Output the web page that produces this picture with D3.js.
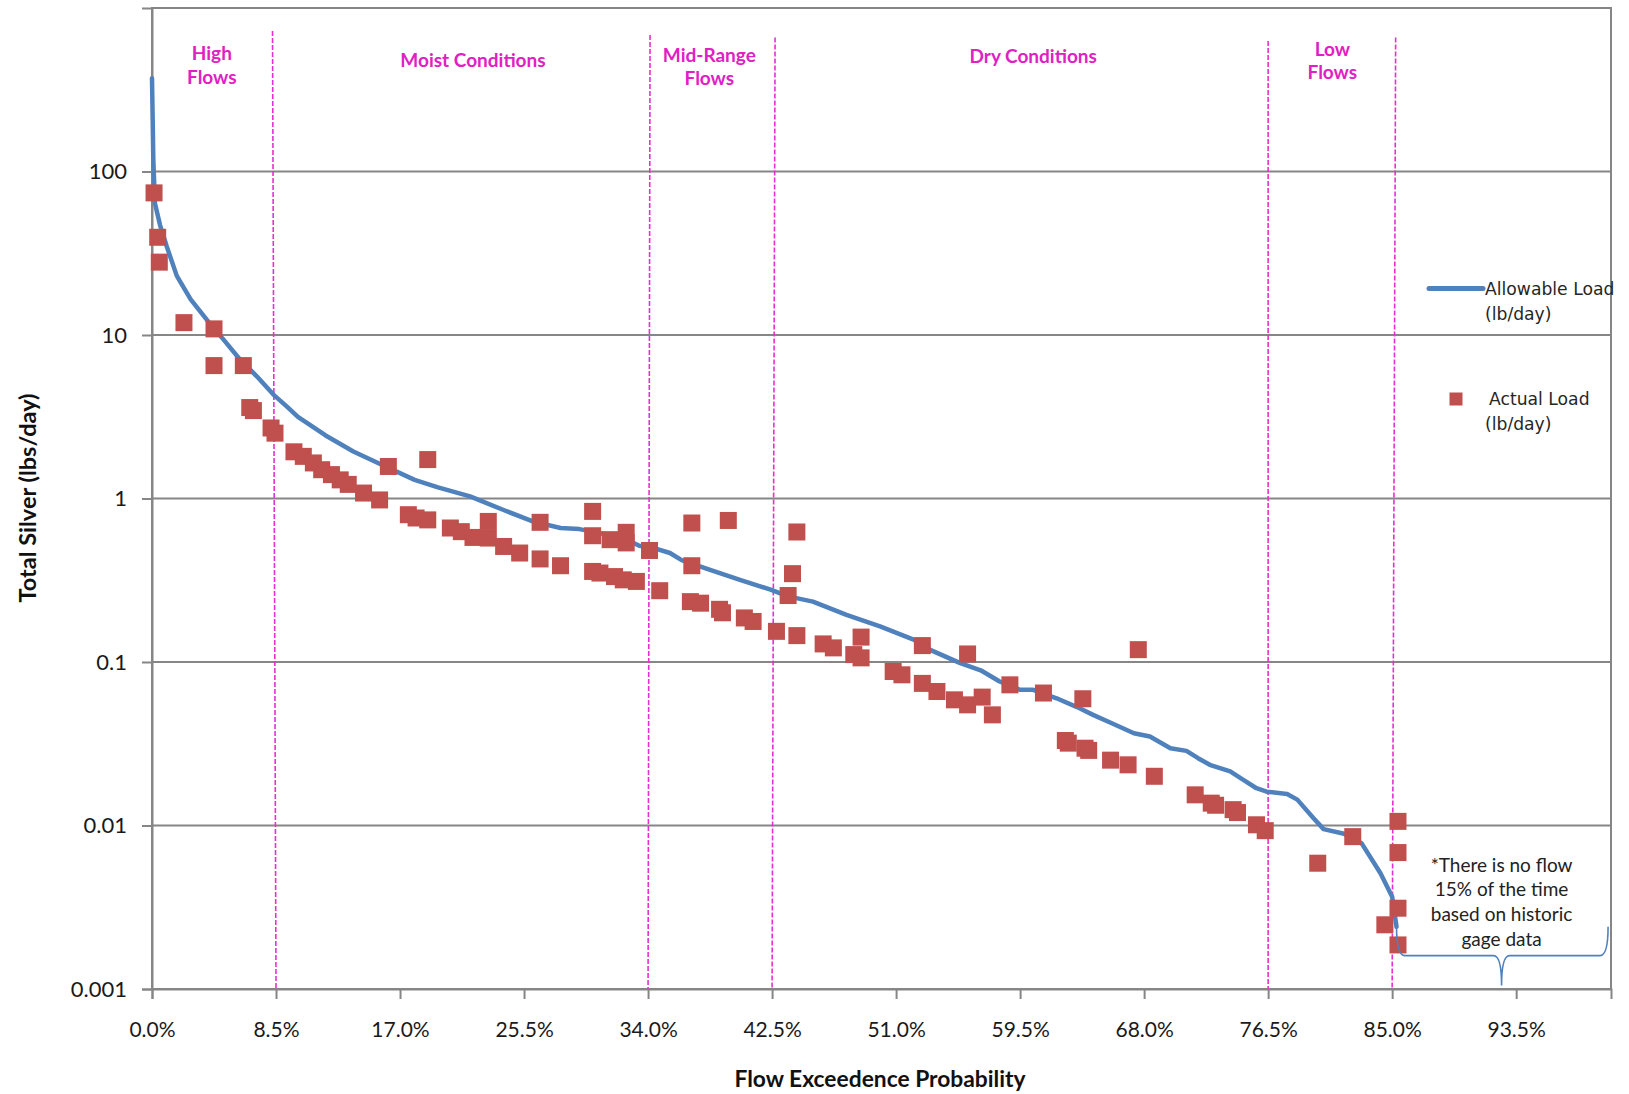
<!DOCTYPE html>
<html><head><meta charset="utf-8">
<script src="https://cdn.jsdelivr.net/npm/d3@7"></script>
<style>body{margin:0;background:#fff} svg{display:block}</style>
</head><body><svg id="c" width="1629" height="1094"></svg>
<script>
// ---------------- data ----------------
const xTicks = [0, 8.5, 17, 25.5, 34, 42.5, 51, 59.5, 68, 76.5, 85, 93.5];
const xTickLabels = ["0.0%","8.5%","17.0%","25.5%","34.0%","42.5%","51.0%","59.5%","68.0%","76.5%","85.0%","93.5%"];
const yTicks = [0.001, 0.01, 0.1, 1, 10, 100];
const yTickLabels = ["0.001","0.01","0.1","1","10","100"];

const allowPct = [0,0.05,0.09,0.2,0.55,1.0,1.7,2.65,3.75,4.89,6.03,7.18,8.32,9.23,10.0,11.9,13.8,15.6,18.0,19.6,21.8,24.1,26.1,28.0,29.3,30.5,32.4,33.4,34.3,35.5,36.3,38.2,40.3,42.4,43.6,45.3,47.6,49.9,52.2,53.3,55.4,56.8,58.1,59.5,60.4,62.0,63.4,64.5,65.9,67.3,68.4,69.8,70.9,71.7,72.5,73.9,74.8,75.7,76.4,77.8,78.5,79.6,80.3,81.7,82.9,84.2,85.0,85.3];
const allowVal = [372,200,118,64,47,35,23,16.5,12.4,9.4,7.08,5.59,4.32,3.66,3.16,2.43,1.94,1.63,1.30,1.17,1.03,0.85,0.724,0.66,0.65,0.62,0.568,0.514,0.50,0.464,0.42,0.367,0.318,0.277,0.252,0.234,0.194,0.165,0.137,0.119,0.0984,0.089,0.076,0.0676,0.0676,0.06,0.053,0.0475,0.0418,0.0367,0.035,0.0297,0.0286,0.0258,0.0235,0.0214,0.019,0.0169,0.0161,0.0156,0.0144,0.0111,0.0095,0.0089,0.0078,0.0051,0.00367,0.0024];

const actualPct = [0.14,0.39,0.5,2.19,4.25,4.25,6.26,6.7,6.95,8.16,8.43,9.73,10.37,11.06,11.63,12.3,12.9,13.45,14.5,15.6,16.2,18.9,17.57,18.1,18.9,20.45,21.2,22.0,23.05,23.05,24.1,25.2,26.6,26.6,28.0,30.2,30.2,30.2,30.7,31.4,31.7,32.3,32.5,32.5,33.2,34.1,34.8,37.0,37.0,36.9,37.6,38.9,39.1,39.5,40.6,41.2,42.8,43.6,43.9,44.2,44.2,46.0,46.7,48.1,48.6,48.6,50.8,51.4,52.8,52.8,53.8,55.0,55.9,55.9,56.9,57.6,58.8,61.1,63.8,62.6,62.8,63.95,64.2,65.7,66.9,67.6,68.7,71.5,72.6,72.9,74.1,74.4,75.7,76.3,79.9,82.3,84.5,85.4,85.4,85.4,85.4];
const actualVal = [74,39.6,27.9,11.9,10.9,6.5,6.5,3.6,3.45,2.70,2.51,1.93,1.81,1.65,1.50,1.40,1.30,1.22,1.08,0.98,1.57,1.73,0.796,0.76,0.74,0.66,0.627,0.578,0.724,0.573,0.509,0.464,0.715,0.427,0.388,0.834,0.592,0.358,0.35,0.56,0.333,0.318,0.621,0.535,0.311,0.481,0.273,0.708,0.388,0.234,0.229,0.21,0.2,0.734,0.186,0.177,0.154,0.255,0.347,0.624,0.145,0.129,0.122,0.111,0.142,0.106,0.0875,0.0835,0.126,0.074,0.066,0.0587,0.112,0.0547,0.061,0.0475,0.0725,0.0646,0.0596,0.0331,0.0319,0.0297,0.0288,0.0251,0.0235,0.119,0.02,0.0154,0.0137,0.0133,0.0125,0.012,0.0101,0.0093,0.00588,0.00855,0.00247,0.0106,0.00683,0.00312,0.00186];

const regionBounds = [8.5, 34, 42.5, 76.5, 85];
const regionNames = [["High","Flows"],["Moist Conditions"],["Mid-Range","Flows"],["Dry Conditions"],["Low","Flows"]];
const regionLabelPct = [4.1, 22.0, 38.2, 60.4, 80.9];
const seriesNames = [["Allowable Load","(lb/day)"],["Actual Load","(lb/day)"]];
const noteLines = ["*There is no flow","15% of the time","based on historic","gage data"];
const braceSpan = [85.3, 99.8];
const braceTip = 92.5;
const braceVals = {arm: 0.0024, level: 0.0016, tip: 0.00105};

// ---------------- layout ----------------
const L = 152, R = 1611, T = 8, B = 989;
const regionLineTop = [31, 35, 37.5, 41, 37.5];
const regionLineTilt = [-3.5, 2, 3, 0, 3.5];
const regionLabelY = [[52, 76], [59], [54, 77.5], [55], [48, 71.5]];
const GRID = "#868686", BLUE = "#4F81BD", RED = "#C0504D", MAG = "#E62ED2", MAGT = "#E020C4";

const svg = d3.select("#c");
const x = d3.scaleLinear().domain([0, 100]).range([L, R]);
const y = d3.scaleLog().domain([0.001, 1000]).range([B, T]);

// gridlines
svg.append("g").selectAll("line").data(yTicks).join("line")
  .attr("x1", L).attr("x2", R).attr("y1", d => y(d)).attr("y2", d => y(d))
  .attr("stroke", GRID).attr("stroke-width", 2);
// frame
svg.append("rect").attr("x", L).attr("y", T).attr("width", R - L).attr("height", B - T)
  .attr("fill", "none").attr("stroke", GRID).attr("stroke-width", 2);

// axes
const yAxis = d3.axisLeft(y).tickValues(yTicks).tickFormat((d, i) => yTickLabels[i]).tickSize(10).tickPadding(15);
const gy = svg.append("g").attr("transform", `translate(${L},0)`).call(yAxis);
const xAxis = d3.axisBottom(x).tickValues(xTicks).tickFormat((d, i) => xTickLabels[i]).tickSize(10).tickPadding(23);
const gx = svg.append("g").attr("transform", `translate(0,${B})`).call(xAxis);
[gx, gy].forEach(g => {
  g.select(".domain").attr("stroke", GRID).attr("stroke-width", 2);
  g.selectAll(".tick line").attr("stroke", GRID).attr("stroke-width", 2);
  g.selectAll(".tick text").attr("fill", "#1a1a1a").style("font-family", "Lato, sans-serif").style("font-size", "21px");
});
gy.selectAll(".tick text").style("font-size", "22px");

// region dividers
svg.append("g").selectAll("line").data(regionBounds).join("line")
  .attr("x1", (d, i) => x(d) + regionLineTilt[i]).attr("x2", d => x(d))
  .attr("y1", (d, i) => regionLineTop[i]).attr("y2", B)
  .attr("stroke", MAG).attr("stroke-width", 1.6).attr("stroke-dasharray", "5,2");

// region labels
regionNames.forEach((lines, i) => {
  lines.forEach((t, j) => {
    svg.append("text").attr("x", x(regionLabelPct[i])).attr("y", regionLabelY[i][j])
      .attr("text-anchor", "middle").attr("dominant-baseline", "central")
      .attr("fill", MAGT).style("font-family", "Lato, sans-serif").style("font-weight", "bold")
      .style("font-size", "19px").text(t);
  });
});

// allowable load line
const lineData = allowPct.map((p, i) => [p, allowVal[i]]);
svg.append("path").datum(lineData)
  .attr("d", d3.line().x(d => x(d[0])).y(d => y(d[1])))
  .attr("fill", "none").attr("stroke", BLUE).attr("stroke-width", 4.5)
  .attr("stroke-linejoin", "round").attr("stroke-linecap", "round");

// actual load markers
const M = 17;
svg.append("g").selectAll("rect").data(actualPct.map((p, i) => [p, actualVal[i]])).join("rect")
  .attr("x", d => x(d[0]) - M / 2).attr("y", d => y(d[1]) - M / 2)
  .attr("width", M).attr("height", M).attr("fill", RED);

// brace annotation
const bx0 = x(braceSpan[0]), bx1 = x(braceSpan[1]), bt = x(braceTip);
const ya = y(braceVals.arm), yl = y(braceVals.level), yt = y(braceVals.tip);
const bp = d3.path();
bp.moveTo(bx0, ya);
bp.quadraticCurveTo(bx0, yl, bx0 + 8, yl);
bp.lineTo(bt - 8, yl);
bp.quadraticCurveTo(bt, yl, bt, yt);
bp.quadraticCurveTo(bt, yl, bt + 8, yl);
bp.lineTo(bx1 - 8, yl);
bp.quadraticCurveTo(bx1, yl, bx1, ya);
svg.append("path").attr("d", bp.toString()).attr("fill", "none").attr("stroke", BLUE).attr("stroke-width", 1.6);

// note
noteLines.forEach((t, i) => {
  svg.append("text").attr("x", bt).attr("y", 864 + i * 24.7)
    .attr("text-anchor", "middle").attr("dominant-baseline", "central")
    .attr("fill", "#222").style("font-family", "Lato, sans-serif").style("font-size", "19px").text(t);
});

// legend
const lg = svg.append("g").style("font-family", "'DejaVu Sans', sans-serif").style("font-size", "17.2px").attr("fill", "#262626");
lg.append("line").attr("x1", 1429).attr("x2", 1483).attr("y1", 288.5).attr("y2", 288.5)
  .attr("stroke", BLUE).attr("stroke-width", 5).attr("stroke-linecap", "round");
lg.append("text").attr("x", 1485).attr("y", 288.5).attr("dominant-baseline", "central").text(seriesNames[0][0]);
lg.append("text").attr("x", 1485).attr("y", 313.5).attr("dominant-baseline", "central").text(seriesNames[0][1]);
lg.append("rect").attr("x", 1456 - 6.5).attr("y", 399 - 6.5).attr("width", 13).attr("height", 13).attr("fill", RED);
lg.append("text").attr("x", 1489).attr("y", 399).attr("dominant-baseline", "central").text(seriesNames[1][0]);
lg.append("text").attr("x", 1485).attr("y", 424).attr("dominant-baseline", "central").text(seriesNames[1][1]);

// axis titles
svg.append("text").attr("x", 880).attr("y", 1078).attr("text-anchor", "middle").attr("dominant-baseline", "central")
  .attr("fill", "#111").style("font-family", "Lato, sans-serif").style("font-weight", "bold").style("font-size", "22.8px")
  .text("Flow Exceedence Probability");
svg.append("text").attr("transform", "translate(27,498) rotate(-90)").attr("text-anchor", "middle").attr("dominant-baseline", "central")
  .attr("fill", "#111").style("font-family", "Lato, sans-serif").style("font-weight", "bold").style("font-size", "23.5px")
  .text("Total Silver (lbs/day)");
</script></body></html>
